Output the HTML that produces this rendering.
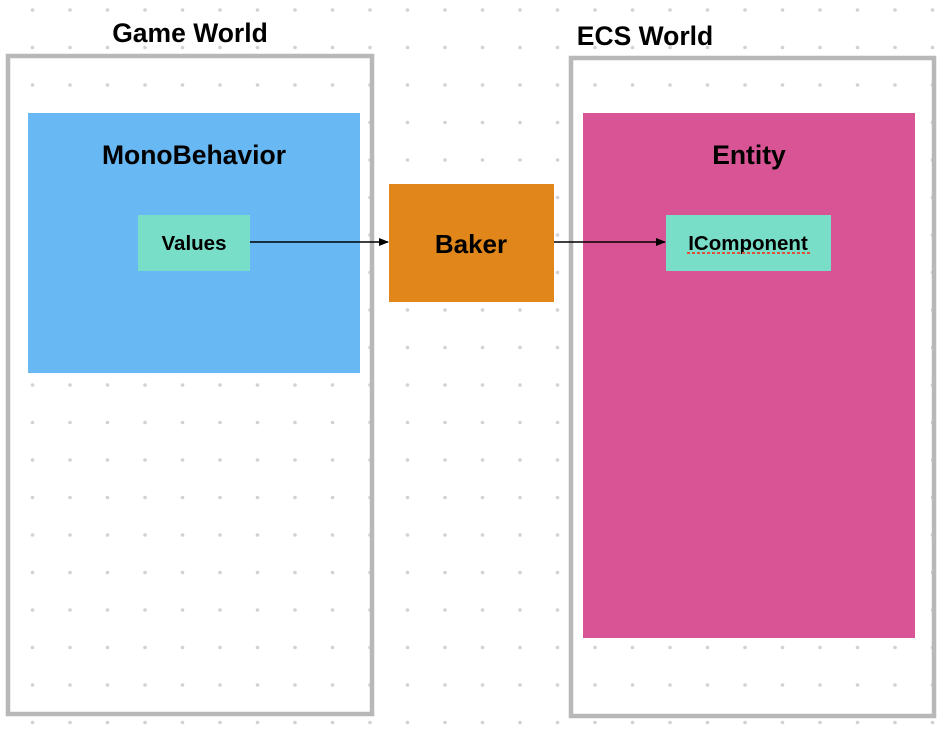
<!DOCTYPE html>
<html><head><style>body{margin:0;background:#fff}</style></head><body>
<svg width="944" height="746" xmlns="http://www.w3.org/2000/svg" font-family="Liberation Sans, sans-serif" font-weight="bold">
<defs>
<pattern id="d" x="32.5" y="10" width="37.5" height="37.5" patternUnits="userSpaceOnUse">
<circle cx="0" cy="0" r="1.8" fill="#d2d2d2"/><circle cx="37.5" cy="0" r="1.8" fill="#d2d2d2"/><circle cx="0" cy="37.5" r="1.8" fill="#d2d2d2"/><circle cx="37.5" cy="37.5" r="1.8" fill="#d2d2d2"/>
</pattern>
<marker id="a" markerWidth="10" markerHeight="8" refX="9" refY="4" orient="auto" markerUnits="userSpaceOnUse"><path d="M0,0L10,4L0,8z" fill="#000"/></marker>
</defs>
<rect width="944" height="746" fill="url(#d)"/>
<rect x="8" y="56" width="364" height="658" fill="none" stroke="#b8b8b8" stroke-width="4.5"/>
<rect x="571" y="58" width="363" height="658" fill="none" stroke="#b8b8b8" stroke-width="4.5"/>
<text x="190" y="42" font-size="26.5" text-anchor="middle">Game World</text>
<text x="645" y="45" font-size="26.5" text-anchor="middle">ECS World</text>
<rect x="28" y="113" width="332" height="260" fill="#67b8f3"/>
<text x="194" y="164" font-size="26.5" text-anchor="middle">MonoBehavior</text>
<rect x="583" y="113" width="332" height="525" fill="#d95494"/>
<text x="749" y="164" font-size="26.5" text-anchor="middle">Entity</text>
<rect x="389" y="184" width="165" height="118" fill="#e0861a"/>
<text x="471" y="253" font-size="26" text-anchor="middle">Baker</text>
<rect x="138" y="215" width="112" height="56" fill="#79dec8"/>
<text x="194" y="250" font-size="20.5" text-anchor="middle">Values</text>
<rect x="666" y="215" width="165" height="56" fill="#79dec8"/>
<text x="748" y="250" font-size="20.5" text-anchor="middle">IComponent</text>
<line x1="687" y1="253" x2="811" y2="253" stroke="#e0503a" stroke-width="2" stroke-dasharray="3,2"/>
<line x1="250" y1="242" x2="388" y2="242" stroke="#000" stroke-width="1.5" marker-end="url(#a)"/>
<line x1="554" y1="242" x2="665" y2="242" stroke="#000" stroke-width="1.5" marker-end="url(#a)"/>
</svg>
</body></html>
